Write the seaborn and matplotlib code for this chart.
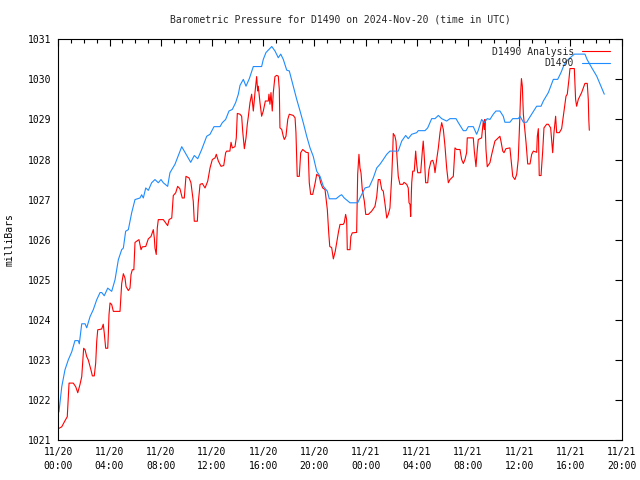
import matplotlib
matplotlib.use("Agg")
import matplotlib.pyplot as plt
import matplotlib.dates as mdates
from matplotlib.ticker import MultipleLocator
import seaborn as sns
import pandas as pd

# Pressao barometrica (horas desde 2024-11-20 00:00 UTC, em milibares)
titulo = "Barometric Pressure for D1490 on 2024-Nov-20 (time in UTC)"
nome_analise = "D1490 Analysis"
nome_estacao = "D1490"

estacao_horas = [
    0.05, 0.27, 0.52, 0.78, 1.05, 1.30, 1.56, 1.64, 1.83, 2.09,
    2.22, 2.48, 2.73, 3.00, 3.26, 3.39, 3.59, 3.86, 4.17, 4.43,
    4.69, 4.95, 5.08, 5.26, 5.47, 5.73, 5.99, 6.38, 6.51, 6.64,
    6.83, 7.03, 7.29, 7.55, 7.81, 8.02, 8.20, 8.54, 8.72, 9.11,
    9.64, 10.34, 10.62, 10.89, 11.20, 11.59, 11.85, 12.16, 12.63, 12.81,
    13.07, 13.33, 13.59, 13.85, 14.06, 14.19, 14.45, 14.66, 14.92, 15.23,
    15.88, 16.01, 16.22, 16.67, 16.92, 17.18, 17.37, 17.57, 17.84, 18.04,
    18.35, 18.62, 18.88, 19.13, 19.40, 19.66, 19.91, 20.18, 20.44, 20.70,
    21.01, 21.16, 21.69, 22.00, 22.13, 22.33, 22.78, 23.38, 23.56, 23.95,
    24.29, 24.60, 24.87, 25.12, 25.38, 25.65, 25.90, 26.55, 26.82, 27.13,
    27.33, 27.60, 27.99, 28.11, 28.64, 28.85, 29.16, 29.42, 29.68, 29.94,
    30.33, 30.59, 31.06, 31.24, 31.63, 31.84, 32.02, 32.41, 32.67, 32.80,
    33.06, 33.27, 33.50, 33.71, 33.97, 34.18, 34.49, 34.75, 34.88, 35.27,
    35.49, 35.92, 36.06, 36.32, 36.58, 36.71, 36.97, 37.36, 37.70, 37.88,
    38.27, 38.66, 39.00, 39.26, 39.52, 39.83, 40.30, 41.13, 41.29, 41.66,
    42.05, 42.38, 42.64,
]
estacao_mbar = [
    1021.70, 1022.33, 1022.75, 1023.00, 1023.20, 1023.48, 1023.48, 1023.40, 1023.90, 1023.90,
    1023.80, 1024.08, 1024.25, 1024.50, 1024.68, 1024.68, 1024.60, 1024.79, 1024.71, 1025.00,
    1025.50, 1025.75, 1025.79, 1026.21, 1026.25, 1026.67, 1027.00, 1027.04, 1027.12, 1027.04,
    1027.29, 1027.23, 1027.42, 1027.50, 1027.42, 1027.50, 1027.42, 1027.33, 1027.67, 1027.88,
    1028.32, 1027.93, 1028.10, 1028.02, 1028.25, 1028.58, 1028.63, 1028.82, 1028.82, 1028.92,
    1029.00, 1029.21, 1029.25, 1029.42, 1029.63, 1029.85, 1030.00, 1029.83, 1030.02, 1030.32,
    1030.32, 1030.50, 1030.67, 1030.82, 1030.71, 1030.54, 1030.63, 1030.50, 1030.23, 1030.21,
    1029.83, 1029.50, 1029.21, 1028.92, 1028.58, 1028.29, 1028.08, 1027.71, 1027.58, 1027.33,
    1027.21, 1027.02, 1027.02, 1027.10, 1027.12, 1027.04, 1026.92, 1026.92, 1027.04, 1027.29,
    1027.32, 1027.54, 1027.79, 1027.88, 1028.00, 1028.13, 1028.21, 1028.21, 1028.46, 1028.60,
    1028.52, 1028.63, 1028.67, 1028.72, 1028.72, 1028.79, 1029.02, 1029.02, 1029.10, 1029.02,
    1028.96, 1029.02, 1029.02, 1028.92, 1028.72, 1028.72, 1028.82, 1028.82, 1028.63, 1028.73,
    1029.00, 1028.92, 1029.02, 1029.00, 1029.13, 1029.21, 1029.21, 1029.08, 1028.93, 1028.93,
    1029.02, 1029.02, 1029.08, 1028.93, 1028.93, 1029.00, 1029.13, 1029.33, 1029.33, 1029.46,
    1029.67, 1030.00, 1030.00, 1030.17, 1030.38, 1030.50, 1030.63, 1030.63, 1030.50, 1030.29,
    1030.08, 1029.83, 1029.63,
]

analise_horas = [
    0.05, 0.27, 0.52, 0.70, 0.84, 1.17, 1.36, 1.52, 1.69, 1.83,
    1.98, 2.09, 2.22, 2.34, 2.55, 2.66, 2.81, 2.92, 3.00, 3.08,
    3.39, 3.51, 3.59, 3.70, 3.86, 3.90, 3.96, 4.04, 4.17, 4.30,
    4.82, 4.95, 5.08, 5.21, 5.29, 5.47, 5.60, 5.68, 5.78, 5.90,
    5.99, 6.20, 6.30, 6.46, 6.56, 6.83, 7.03, 7.24, 7.42, 7.50,
    7.55, 7.65, 7.73, 7.81, 8.20, 8.54, 8.65, 8.86, 8.98, 9.17,
    9.32, 9.50, 9.68, 9.84, 9.97, 10.21, 10.36, 10.54, 10.62, 10.86,
    10.93, 11.07, 11.25, 11.46, 11.67, 11.85, 12.03, 12.24, 12.34, 12.50,
    12.71, 12.92, 13.07, 13.15, 13.40, 13.49, 13.59, 13.80, 13.90, 13.98,
    14.19, 14.32, 14.40, 14.53, 14.66, 14.76, 14.84, 14.97, 15.10, 15.23,
    15.36, 15.49, 15.57, 15.62, 15.75, 15.88, 16.01, 16.17, 16.40, 16.45,
    16.53, 16.61, 16.71, 16.79, 16.92, 17.06, 17.18, 17.26, 17.31, 17.45,
    17.57, 17.65, 17.78, 17.92, 18.04, 18.35, 18.49, 18.56, 18.66, 18.82,
    18.93, 19.09, 19.35, 19.52, 19.60, 19.71, 19.87, 20.05, 20.18, 20.38,
    20.49, 20.65, 20.83, 21.01, 21.12, 21.20, 21.35, 21.48, 21.63, 21.76,
    21.89, 22.00, 22.25, 22.33, 22.44, 22.52, 22.57, 22.78, 22.85, 22.96,
    23.30, 23.38, 23.48, 23.56, 23.64, 23.74, 23.90, 24.01, 24.21, 24.47,
    24.73, 24.87, 24.99, 25.12, 25.26, 25.38, 25.52, 25.65, 25.77, 25.90,
    26.04, 26.12, 26.16, 26.29, 26.37, 26.42, 26.55, 26.68, 26.90, 27.00,
    27.21, 27.33, 27.39, 27.47, 27.52, 27.60, 27.68, 27.80, 27.91, 27.99,
    28.07, 28.30, 28.43, 28.50, 28.58, 28.69, 28.85, 28.95, 29.11, 29.24,
    29.34, 29.42, 29.55, 29.68, 29.81, 29.94, 30.07, 30.20, 30.33, 30.46,
    30.59, 30.85, 30.98, 31.11, 31.37, 31.50, 31.63, 31.76, 31.89, 31.94,
    32.41, 32.49, 32.62, 32.72, 32.80, 33.06, 33.19, 33.27, 33.32, 33.40,
    33.50, 33.71, 33.85, 34.10, 34.36, 34.49, 34.57, 34.71, 34.81, 34.96,
    35.27, 35.41, 35.49, 35.66, 35.80, 35.92, 36.01, 36.11, 36.17, 36.24,
    36.32, 36.53, 36.66, 36.84, 36.97, 37.10, 37.36, 37.41, 37.49, 37.56,
    37.70, 37.83, 37.93, 38.14, 38.27, 38.45, 38.61, 38.71, 38.84, 38.92,
    39.13, 39.31, 39.44, 39.65, 39.75, 39.88, 39.96, 40.30, 40.40, 40.48,
    40.61, 40.87, 41.13, 41.31, 41.39, 41.43, 41.47,
]
analise_mbar = [
    1021.29, 1021.33, 1021.48, 1021.58, 1022.42, 1022.42, 1022.33, 1022.18, 1022.38, 1022.58,
    1023.29, 1023.25, 1023.08, 1023.00, 1022.75, 1022.60, 1022.60, 1022.92, 1023.46, 1023.75,
    1023.77, 1023.89, 1023.67, 1023.29, 1023.29, 1023.58, 1024.13, 1024.42, 1024.38, 1024.21,
    1024.21, 1024.90, 1025.15, 1025.04, 1024.83, 1024.73, 1024.79, 1025.13, 1025.25, 1025.25,
    1025.93, 1025.98, 1026.00, 1025.75, 1025.82, 1025.83, 1026.02, 1026.08, 1026.25, 1026.04,
    1025.79, 1025.63, 1026.29, 1026.50, 1026.50, 1026.35, 1026.50, 1026.54, 1027.10, 1027.17,
    1027.33, 1027.27, 1027.04, 1027.04, 1027.58, 1027.54, 1027.42, 1026.96, 1026.46, 1026.46,
    1026.92, 1027.38, 1027.40, 1027.29, 1027.46, 1027.79, 1028.00, 1028.04, 1028.13, 1027.96,
    1027.83, 1027.85, 1028.17, 1028.21, 1028.21, 1028.43, 1028.29, 1028.32, 1028.54, 1029.15,
    1029.13, 1029.08, 1028.71, 1028.27, 1028.54, 1028.88, 1029.07, 1029.42, 1029.63, 1029.21,
    1029.67, 1030.07, 1029.71, 1029.83, 1029.42, 1029.08, 1029.21, 1029.46, 1029.46, 1029.63,
    1029.38, 1029.67, 1029.21, 1029.67, 1030.07, 1030.10, 1030.08, 1029.75, 1028.79, 1028.75,
    1028.58, 1028.50, 1028.58, 1029.00, 1029.13, 1029.10, 1029.04, 1028.67, 1027.58, 1027.58,
    1028.17, 1028.25, 1028.18, 1028.17, 1027.42, 1027.13, 1027.13, 1027.40, 1027.63, 1027.58,
    1027.42, 1027.29, 1027.25, 1026.75, 1026.17, 1025.83, 1025.80, 1025.52, 1025.71, 1025.96,
    1026.21, 1026.38, 1026.38, 1026.42, 1026.63, 1026.50, 1025.75, 1025.75, 1026.08, 1026.17,
    1026.18, 1027.63, 1028.13, 1027.79, 1027.67, 1027.25, 1026.96, 1026.63, 1026.63, 1026.71,
    1026.83, 1027.08, 1027.50, 1027.50, 1027.25, 1027.21, 1026.88, 1026.54, 1026.63, 1026.79,
    1027.58, 1028.21, 1028.65, 1028.58, 1028.46, 1028.21, 1027.58, 1027.38, 1027.38, 1027.43,
    1027.38, 1027.29, 1026.92, 1026.88, 1026.58, 1027.42, 1027.71, 1027.71, 1028.21, 1027.88,
    1027.67, 1027.67, 1028.21, 1028.46, 1028.08, 1027.42, 1027.42, 1027.75, 1027.96, 1027.98,
    1027.88, 1027.67, 1028.00, 1028.29, 1028.67, 1028.92, 1028.75, 1028.33, 1027.79, 1027.42,
    1027.50, 1027.58, 1028.29, 1028.25, 1028.25, 1028.00, 1027.90, 1028.00, 1028.17, 1028.54,
    1028.54, 1028.21, 1027.82, 1028.25, 1028.50, 1028.54, 1028.96, 1028.75, 1029.00, 1028.25,
    1027.82, 1027.92, 1028.13, 1028.46, 1028.54, 1028.58, 1028.46, 1028.21, 1028.17, 1028.27,
    1028.29, 1027.83, 1027.58, 1027.50, 1027.63, 1028.00, 1028.75, 1029.67, 1030.02, 1029.83,
    1029.13, 1028.42, 1027.89, 1027.89, 1028.13, 1028.21, 1028.18, 1028.58, 1028.77, 1027.60,
    1027.60, 1028.21, 1028.79, 1028.88, 1028.88, 1028.79, 1028.17, 1028.67, 1029.08, 1028.67,
    1028.67, 1028.77, 1029.08, 1029.58, 1029.63, 1030.00, 1030.27, 1030.27, 1029.50, 1029.33,
    1029.50, 1029.67, 1029.90, 1029.90, 1029.50, 1029.00, 1028.73,
]

inicio = pd.Timestamp("2024-11-20 00:00")
fim = inicio + pd.Timedelta(hours=44)

analise = pd.DataFrame({
    "hora": inicio + pd.to_timedelta(analise_horas, unit="h"),
    "mbar": analise_mbar,
})
estacao = pd.DataFrame({
    "hora": inicio + pd.to_timedelta(estacao_horas, unit="h"),
    "mbar": estacao_mbar,
})

sns.set_style("white")
plt.rcParams["font.family"] = ["DejaVu Sans Mono", "DejaVu Sans"]
plt.rcParams["font.size"] = 7

fig = plt.figure(figsize=(6.4, 4.8), dpi=100)
ax = fig.add_axes([58.3 / 640, 40 / 480, 563.4 / 640, 400.7 / 480])

sns.lineplot(data=analise, x="hora", y="mbar", color="#ff0000", lw=0.8,
             label=nome_analise, estimator=None, ax=ax)
sns.lineplot(data=estacao, x="hora", y="mbar", color="#1e8cff", lw=0.8,
             label=nome_estacao, estimator=None, ax=ax)

ax.set_xlim(inicio, fim)
ax.set_ylim(1021, 1031)
ax.yaxis.set_major_locator(MultipleLocator(1))
ax.xaxis.set_major_locator(mdates.HourLocator(byhour=range(0, 24, 4)))
ax.xaxis.set_minor_locator(mdates.HourLocator())
ax.xaxis.set_major_formatter(mdates.DateFormatter("%m/%d\n%H:%M"))

ax.tick_params(which="both", direction="in", top=True, right=True,
               labelsize=7, colors="black", width=0.8)
ax.tick_params(which="major", length=5, pad=5)
ax.tick_params(which="minor", length=3)
for lado in ax.spines.values():
    lado.set_color("black")
    lado.set_linewidth(0.8)

ax.set_xlabel("")
ax.set_ylabel("milliBars", fontsize=7, color="black")
ax.yaxis.set_label_coords(-0.077, 0.5)

fig.text(340 / 640, 1 - 20 / 480, titulo, ha="center", va="center", fontsize=7)

ax.legend(loc="upper right", bbox_to_anchor=(0.979, 0.982), frameon=False,
          markerfirst=False, fontsize=7, handlelength=2.9, handletextpad=0.8,
          labelspacing=0.2, borderaxespad=0, borderpad=0)

fig.canvas.draw()
for rotulo in ax.get_xticklabels():
    rotulo.set_linespacing(1.45)

fig.savefig("out.png", dpi=100)
